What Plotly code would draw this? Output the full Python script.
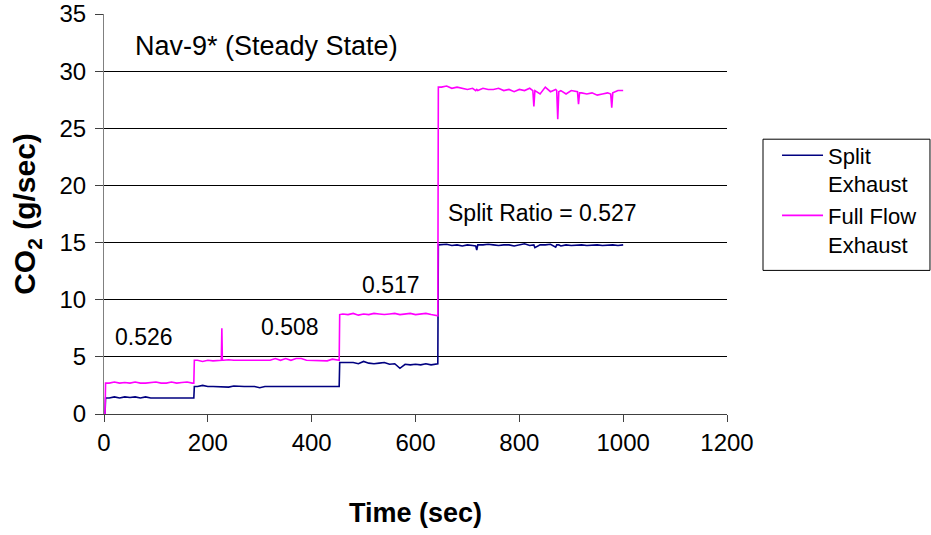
import plotly.graph_objects as go

# ---------------- data ----------------
# start-up
t_start = [0, 2, 3]
split_start = [0.0, 0.0, 1.4]
full_start = [0.0, 0.0, 2.7]

# step 1 (ratio 0.526)
t_step1 = [10, 20, 30, 40, 50, 60, 70, 80, 90, 100, 110, 120, 130, 140, 150, 160, 170, 173]
split_step1 = [1.4, 1.5, 1.4, 1.5, 1.45, 1.5, 1.4, 1.5, 1.4, 1.4, 1.4, 1.4, 1.4, 1.4, 1.4, 1.4, 1.4, 1.4]
full_step1 = [2.7, 2.8, 2.7, 2.75, 2.7, 2.8, 2.7, 2.7, 2.75, 2.8, 2.7, 2.7, 2.8, 2.7, 2.75, 2.8, 2.7, 2.7]

# step 2 (ratio 0.508)
t_step2 = [174, 180, 190, 200, 210, 220, 226, 227, 228, 230, 240, 250, 260, 270, 280, 290,
           300, 310, 320, 330, 340, 350, 360, 370, 380, 390, 400, 410, 420, 430, 440, 450, 453]
split_step2 = [2.4, 2.4, 2.5, 2.4, 2.4, 2.4, 2.4, 2.4, 2.4, 2.4, 2.35, 2.45, 2.4, 2.4, 2.4, 2.4,
               2.3, 2.4, 2.4, 2.4, 2.4, 2.4, 2.4, 2.4, 2.4, 2.35, 2.4, 2.4, 2.4, 2.4, 2.4, 2.4, 2.4]
full_step2 = [4.7, 4.7, 4.6, 4.7, 4.65, 4.7, 4.7, 7.5, 4.7, 4.7, 4.75, 4.7, 4.7, 4.7, 4.75, 4.7,
              4.7, 4.7, 4.7, 4.85, 4.7, 4.85, 4.7, 4.85, 4.85, 4.7, 4.7, 4.7, 4.7, 4.65, 4.8, 4.7, 4.7]

# step 3 (ratio 0.517)
t_step3 = [454, 460, 470, 480, 490, 500, 510, 520, 530, 540, 550, 560, 570, 580, 590,
           600, 610, 620, 630, 640, 643]
split_step3 = [4.5, 4.5, 4.45, 4.5, 4.4, 4.6, 4.45, 4.4, 4.45, 4.5, 4.35, 4.4, 4.0, 4.35, 4.3,
               4.35, 4.3, 4.4, 4.3, 4.35, 4.4]
full_step3 = [8.7, 8.75, 8.7, 8.8, 8.65, 8.75, 8.7, 8.8, 8.75, 8.7, 8.75, 8.8, 8.7, 8.75, 8.8,
              8.7, 8.75, 8.8, 8.7, 8.65, 8.6]

# step 4 (ratio 0.527)
t_step4 = [644, 650, 660, 670, 680, 690, 700, 710, 716, 718, 720, 730, 740, 750, 760, 770,
           780, 790, 800, 810, 820, 826, 828, 830, 840, 850, 860, 870, 872, 874, 876, 880,
           890, 900, 910, 912, 914, 916, 920, 930, 940, 950, 960, 970, 976, 978, 980, 990, 1000]
split_step4 = [14.8, 14.8, 14.85, 14.75, 14.8, 14.7, 14.8, 14.75, 14.7, 14.35, 14.8, 14.8, 14.85, 14.8, 14.75, 14.8,
               14.8, 14.7, 14.8, 14.9, 14.75, 14.8, 14.8, 14.55, 14.8, 14.8, 14.85, 14.6, 14.8, 14.8, 14.8, 14.7,
               14.8, 14.75, 14.8, 14.8, 14.8, 14.8, 14.8, 14.75, 14.8, 14.8, 14.75, 14.8, 14.8, 14.8, 14.8, 14.75, 14.8]
full_step4 = [28.6, 28.6, 28.7, 28.5, 28.6, 28.5, 28.4, 28.5, 28.3, 28.4, 28.3, 28.5, 28.4, 28.4, 28.5, 28.3,
              28.4, 28.2, 28.4, 28.3, 28.5, 28.3, 26.9, 28.3, 28.0, 28.6, 28.2, 28.4, 28.3, 25.8, 28.2, 28.3,
              28.0, 28.3, 28.2, 28.2, 27.1, 28.1, 28.1, 28.0, 28.1, 27.9, 28.0, 28.1, 28.0, 26.8, 28.1, 28.3, 28.3]

time_s = t_start + t_step1 + t_step2 + t_step3 + t_step4
split_exhaust = split_start + split_step1 + split_step2 + split_step3 + split_step4
full_flow_exhaust = full_start + full_step1 + full_step2 + full_step3 + full_step4
assert len(time_s) == len(split_exhaust) == len(full_flow_exhaust)

series_names = ["Split<br>Exhaust", "Full Flow<br>Exhaust"]
ratio_labels = ["0.526", "0.508", "0.517", "Split Ratio = 0.527"]
ratio_x = [77, 358, 552, 844]
ratio_y = [6.7, 7.6, 11.25, 17.55]
title_text = "Nav-9* (Steady State)"
x_ticks = [0, 200, 400, 600, 800, 1000, 1200]
y_ticks = [0, 5, 10, 15, 20, 25, 30, 35]

FONT = "Liberation Sans, Arial, sans-serif"

fig = go.Figure()
fig.add_trace(go.Scatter(x=time_s, y=split_exhaust, mode="lines", name=series_names[0],
                         line=dict(color="#000080", width=1.6)))
fig.add_trace(go.Scatter(x=time_s, y=full_flow_exhaust, mode="lines", name=series_names[1],
                         line=dict(color="#FF00FF", width=1.6)))

for txt, xx, yy in zip(ratio_labels, ratio_x, ratio_y):
    fig.add_annotation(x=xx, y=yy, text=txt, showarrow=False, xref="x", yref="y",
                       font=dict(family=FONT, size=23, color="black"))
fig.add_annotation(x=55, y=32.2, text=title_text, showarrow=False, xref="x", yref="y",
                   xanchor="left", font=dict(family=FONT, size=27, color="black"))

# legend frame (drawn as a shape so the entries can sit inset as in the reference)
fig.add_shape(type="rect", xref="paper", yref="paper",
              x0=1.0578, x1=1.3258, y0=0.359, y1=0.687,
              line=dict(color="black", width=1), fillcolor="rgba(0,0,0,0)")

fig.update_layout(
    width=931, height=535,
    margin=dict(l=104, r=204, t=14, b=121, autoexpand=False),
    paper_bgcolor="white", plot_bgcolor="white",
    font=dict(family=FONT, color="black"),
    showlegend=True,
    legend=dict(x=1.0803, y=0.699, xanchor="left", yanchor="top",
                borderwidth=0, bgcolor="rgba(0,0,0,0)",
                font=dict(family=FONT, size=22), valign="top",
                itemwidth=41, tracegroupgap=0),
    xaxis=dict(range=[0, 1200], tickvals=x_ticks, showgrid=False, zeroline=False,
               automargin=False,
               showline=True, linecolor="#404040", linewidth=1,
               ticks="outside", ticklen=7, tickcolor="#404040",
               tickfont=dict(family=FONT, size=24),
               title=dict(text="<b>Time (sec)</b>", font=dict(family=FONT, size=27), standoff=48)),
    yaxis=dict(range=[0, 35], tickvals=y_ticks, showgrid=True, gridcolor="black", gridwidth=1,
               automargin=False,
               zeroline=False, showline=True, linecolor="#808080", linewidth=1,
               ticks="outside", ticklen=8, tickcolor="#404040", ticklabelstandoff=4,
               tickfont=dict(family=FONT, size=24),
               title=dict(text="<b>CO<sub>2</sub> (g/sec)</b>", font=dict(family=FONT, size=30), standoff=14)),
)

# remove the browser's default 8px body margin so the figure sits at the page origin
fig.write_html("out.html", config={"displayModeBar": False},
               post_script="document.body.style.margin='0px';")
